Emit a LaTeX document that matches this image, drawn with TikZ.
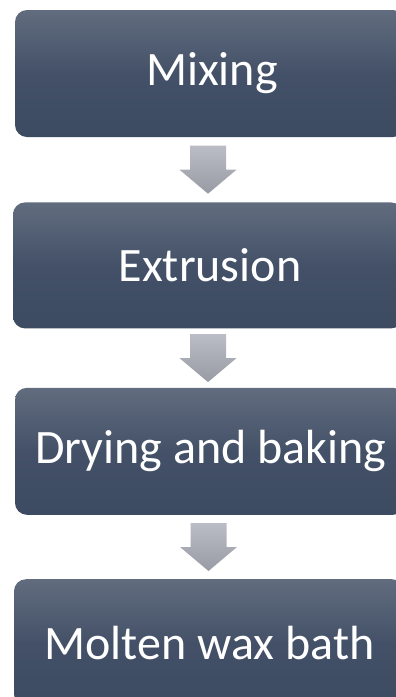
\documentclass[tikz,border=0pt]{standalone}
\usepackage{fontspec}
\setmainfont{Carlito}
\usepackage{tikz}
\usetikzlibrary{positioning,calc}
\definecolor{boxtop}{RGB}{97,108,126}
\definecolor{boxbot}{RGB}{60,74,98}
\definecolor{arrtop}{RGB}{186,189,197}
\definecolor{arrbot}{RGB}{152,155,163}
\tikzstyle{stage}=[rectangle,rounded corners=12pt,top color=boxtop,bottom color=boxbot,middle color=boxbot!80!boxtop,text=white,minimum width=390pt,minimum height=127pt,inner sep=0pt,font=\fontsize{48}{50}\selectfont]
\tikzstyle{flowarrow}=[top color=arrtop,bottom color=arrbot,draw=none]

\begin{document}
\begin{tikzpicture}[x=1pt,y=1pt]
\useasboundingbox (0,0) rectangle (396,-697);
\clip (0,0) rectangle (396,-697);
\node [stage] (mix) at (210,-73.5) {\hspace*{4pt}Mixing};
\node [stage,below=65pt of mix,minimum height=126pt,xshift=-2pt] (ext) {\hspace*{4pt}Extrusion};
\node [stage,below=59pt of ext,xshift=2pt] (dry) {\hspace*{2pt}Drying and baking};
\node [stage,below=64pt of dry,xshift=-1pt] (wax) {\hspace*{1pt}Molten wax bath};
\foreach \a/\b in {mix/ext,ext/dry,dry/wax}{
  \coordinate (m) at ($(\a.south)!0.5!(\b.north)$);
  \path [flowarrow,shift={(m)},xshift=-1pt] (-18,24) -- (18,24) -- (18,0) -- (28.5,0) -- (0,-24) -- (-28.5,0) -- (-18,0) -- cycle;
}
\end{tikzpicture}
\end{document}
